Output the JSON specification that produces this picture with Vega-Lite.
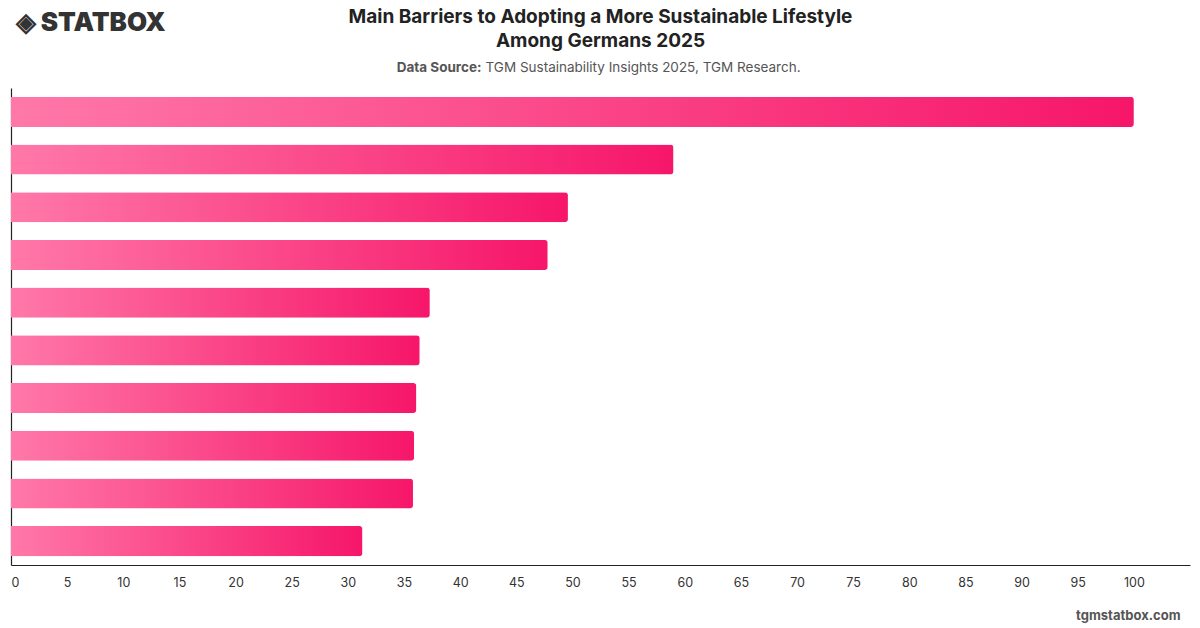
{
  "$schema": "https://vega.github.io/schema/vega-lite/v6.json",
  "width": 1179,
  "height": 477,
  "autosize": {"type": "none"},
  "padding": {"left": 11, "right": 10, "top": 88, "bottom": 63},
  "background": "white",
  "title": {
    "text": ["Main Barriers to Adopting a More Sustainable Lifestyle", "Among Germans 2025"],
    "anchor": "middle",
    "font": "Inter",
    "fontSize": 19,
    "fontWeight": "bold",
    "color": "#222222",
    "lineHeight": 24,
    "offset": -42
  },
  "data": {
    "values": [
      {"barrier": "Barrier 1", "value": 100},
      {"barrier": "Barrier 2", "value": 59.0},
      {"barrier": "Barrier 3", "value": 49.6},
      {"barrier": "Barrier 4", "value": 47.8},
      {"barrier": "Barrier 5", "value": 37.3},
      {"barrier": "Barrier 6", "value": 36.4},
      {"barrier": "Barrier 7", "value": 36.1},
      {"barrier": "Barrier 8", "value": 35.9},
      {"barrier": "Barrier 9", "value": 35.8},
      {"barrier": "Barrier 10", "value": 31.3}
    ]
  },
  "layer": [
    {
      "mark": {
        "type": "bar",
        "cornerRadiusEnd": 3,
        "fill": {
          "gradient": "linear",
          "x1": 0, "y1": 0, "x2": 1, "y2": 0,
          "stops": [
            {"offset": 0, "color": "#ff78a8"},
            {"offset": 1, "color": "#f6166a"}
          ]
        }
      },
      "encoding": {
        "y": {
          "field": "barrier",
          "type": "nominal",
          "sort": null,
          "scale": {"paddingInner": 0.37, "paddingOuter": 0.185},
          "axis": {
            "orient": "left",
            "title": "◈ STATBOX",
            "titleFont": "Inter",
            "titleFontSize": 26,
            "titleFontWeight": 900,
            "titleColor": "#333333",
            "titleAngle": 0,
            "titleAlign": "left",
            "titleBaseline": "middle",
            "titleX": 4,
            "titleY": -66,
            "labels": false,
            "ticks": false,
            "domain": true,
            "domainColor": "#222222",
            "domainWidth": 1.2,
            "grid": false
          }
        },
        "x": {
          "field": "value",
          "type": "quantitative",
          "scale": {"domain": [0, 105], "nice": false},
          "axis": {
            "orient": "bottom",
            "values": [0, 5, 10, 15, 20, 25, 30, 35, 40, 45, 50, 55, 60, 65, 70, 75, 80, 85, 90, 95, 100],
            "title": "tgmstatbox.com",
            "titleFont": "Inter",
            "titleFontSize": 13,
            "titleFontWeight": "bold",
            "titleColor": "#555555",
            "titleAlign": "right",
            "titleBaseline": "middle",
            "titleX": 1169,
            "titleY": 50,
            "labelFont": "Inter",
            "labelFontSize": 12.5,
            "labelColor": "#333333",
            "labelPadding": 11,
            "ticks": false,
            "grid": false,
            "domain": true,
            "domainColor": "#222222",
            "domainWidth": 1.2
          }
        }
      }
    },
    {
      "mark": {"type": "bar", "opacity": 0},
      "encoding": {
        "y": {
          "field": "barrier",
          "type": "nominal",
          "sort": null,
          "axis": {
            "orient": "right",
            "title": "Data Source:",
            "titleFont": "Inter",
            "titleFontSize": 13.5,
            "titleFontWeight": "bold",
            "titleColor": "#555555",
            "titleAngle": 0,
            "titleAlign": "right",
            "titleBaseline": "middle",
            "titleX": -709,
            "titleY": -21,
            "labels": false,
            "ticks": false,
            "domain": false,
            "grid": false
          }
        },
        "x": {
          "field": "value",
          "type": "quantitative",
          "axis": {
            "orient": "top",
            "title": "TGM Sustainability Insights 2025, TGM Research.",
            "titleFont": "Inter",
            "titleFontSize": 13.5,
            "titleFontWeight": "normal",
            "titleColor": "#555555",
            "titleAlign": "left",
            "titleBaseline": "middle",
            "titleX": 474,
            "titleY": -21,
            "labels": false,
            "ticks": false,
            "domain": false,
            "grid": false
          }
        }
      }
    }
  ],
  "resolve": {"axis": {"x": "independent", "y": "independent"}},
  "config": {
    "view": {"stroke": null}
  }
}
